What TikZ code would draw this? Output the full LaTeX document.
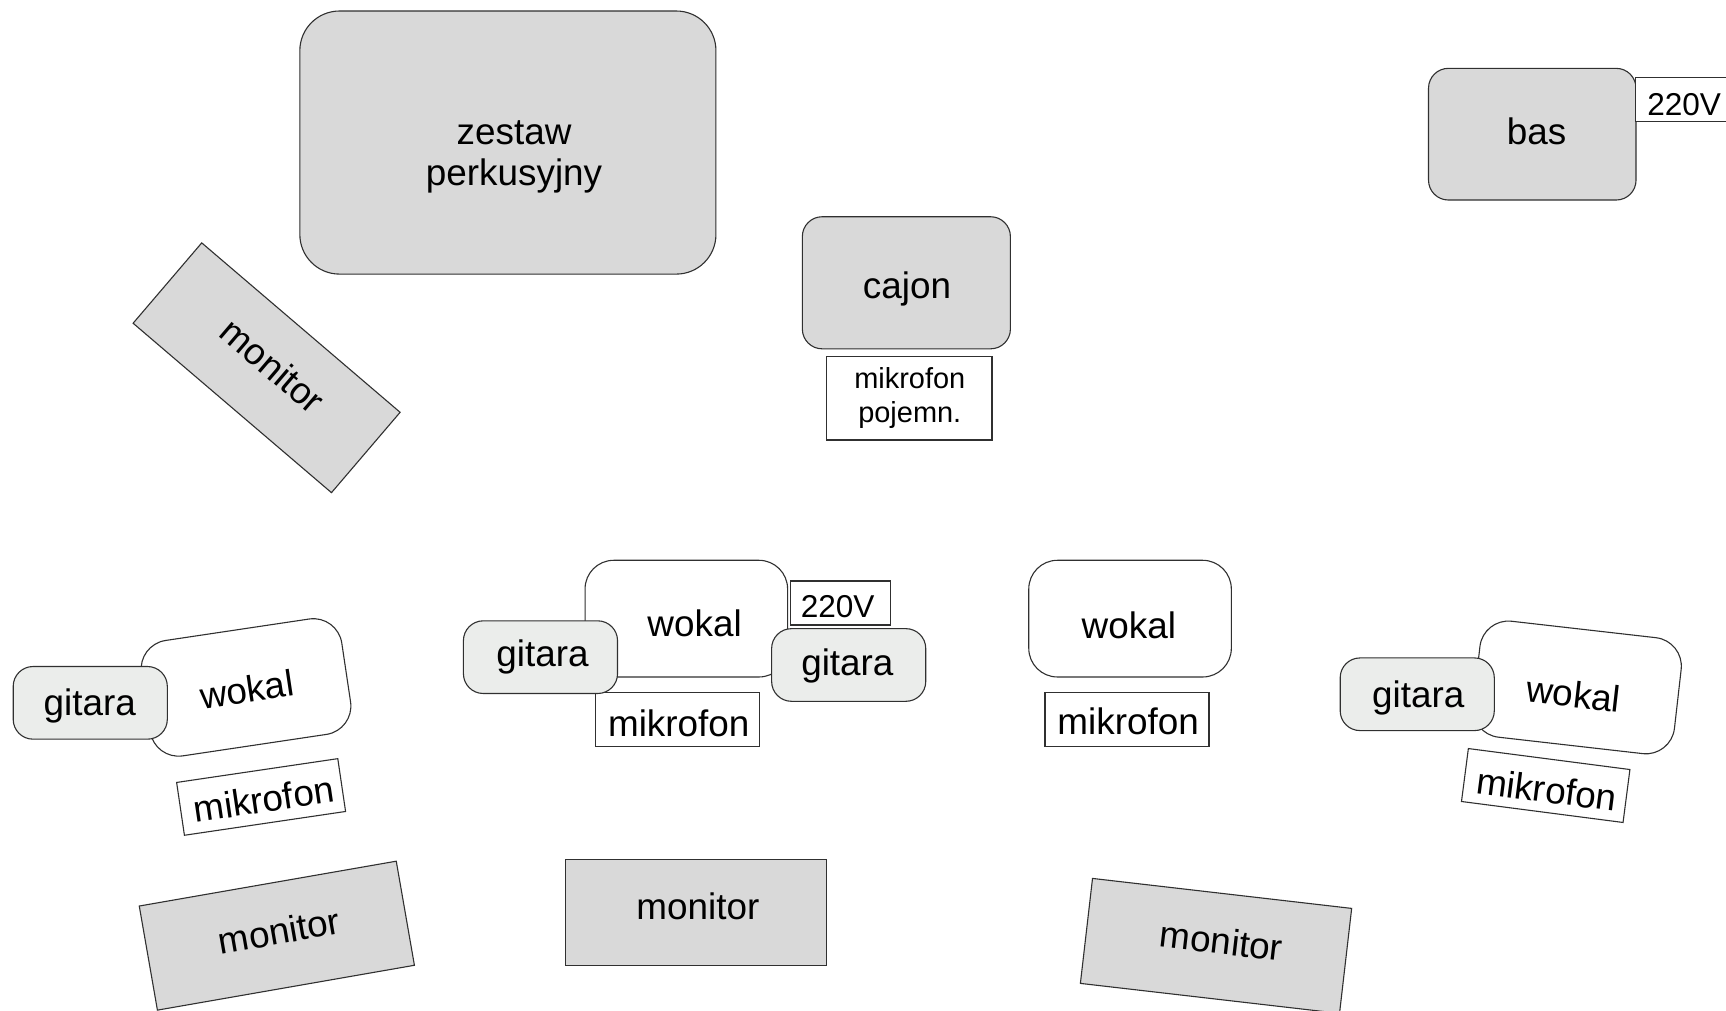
\documentclass[tikz,border=0pt]{standalone}
\usepackage{fontspec}
\setmainfont{Liberation Sans}
\definecolor{fillgray}{HTML}{D9D9D9}
\definecolor{gitgray}{HTML}{EBEDEB}
\definecolor{edgecol}{HTML}{303030}
\begin{document}
\begin{tikzpicture}[x=1pt,y=-1pt,
  plate/.style={draw=edgecol,line width=1pt,inner sep=0pt,outer sep=0pt},
  gear/.style={plate,fill=fillgray},
  monitorbox/.style={gear,minimum width=237pt,minimum height=96pt},
  wokalbox/.style={plate,fill=white,rounded corners=26pt,minimum width=184pt,minimum height=106pt},
  gitarabox/.style={plate,fill=gitgray,rounded corners=18pt,minimum width=140pt,minimum height=66pt},
  mikbox/.style={plate,fill=white,minimum width=148pt,minimum height=48.5pt},
  voltbox/.style={plate,fill=white,minimum width=91pt,minimum height=40pt},
  lbl/.style={inner sep=0pt,font=\fontsize{33.5}{37}\selectfont,align=center},
  smalllbl/.style={inner sep=0pt,font=\fontsize{28.7}{34}\selectfont},
  tinylbl/.style={inner sep=0pt,font=\fontsize{26.3}{31}\selectfont,align=center}]
\fill[white] (0,0) rectangle (1568,918);
\useasboundingbox (0,0) rectangle (1568,918);

% top row
\node[gear,rounded corners=36pt,minimum width=378pt,minimum height=239pt] (drums) at (461.4,129.5) {};
\node[lbl] (drumstxt) at (467,142.3) {zestaw\\perkusyjny};

\node[gear,rounded corners=18pt,minimum width=189pt,minimum height=120pt] (cajon) at (823.4,256.9) {};
\node[lbl] (cajontxt) at (824,262.6) {cajon};
\node[plate,fill=white,minimum width=150pt,minimum height=75.7pt] (pojemn) at (826.2,361.9) {};
\node[tinylbl] (pojemntxt) at (826.5,361.8) {mikrofon\\pojemn.};

\node[gear,rounded corners=18pt,minimum width=188.5pt,minimum height=119.6pt] (bas) at (1392,121.9) {};
\node[lbl] (bastxt) at (1396,119.6) {bas};
\node[voltbox] (voltbas) at (1531.5,90.5) {};
\node[smalllbl] (voltbastxt) at (1530,94.6) {220V};

% upper-left monitor
\node[monitorbox,rotate=-40.5] (monA) at (242.2,334.1) {};
\node[lbl,rotate=-40.5] (monAtxt) at (247.8,332.3) {monitor};

% left group
\node[wokalbox,rotate=8.5] (wokA) at (223.5,624.5) {};
\node[lbl,rotate=8.5] (wokAtxt) at (224.2,626.1) {wokal};
\node[gitarabox] (gitA) at (82,638.5) {};
\node[lbl] (gitAtxt) at (81.6,641.2) {gitara};
\node[mikbox,rotate=8.4] (mikA) at (237.2,724) {};
\node[lbl,rotate=8.4] (mikAtxt) at (239.6,726) {mikrofon};
\node[monitorbox,rotate=9.9] (monB) at (251.5,850) {};
\node[lbl,rotate=9.9] (monBtxt) at (253.5,845.6) {monitor};

% middle group
\node[wokalbox] (wokB) at (623.5,562) {};
\node[lbl] (wokBtxt) at (631,566) {wokal};
\node[mikbox,minimum width=149pt] (mikB) at (615.3,653.5) {};
\node[lbl] (mikBtxt) at (616.6,656.7) {mikrofon};
\node[voltbox] (voltB) at (763.3,547.8) {};
\node[smalllbl] (voltBtxt) at (761,551) {220V};
\node[gitarabox] (gitB) at (491,597) {};
\node[lbl] (gitBtxt) at (492.8,596.5) {gitara};
\node[gitarabox] (gitC) at (771,604.1) {};
\node[lbl] (gitCtxt) at (769.8,604.9) {gitara};
\node[monitorbox] (monC) at (632,828.8) {};
\node[lbl] (monCtxt) at (634,823.6) {monitor};

% right-centre group
\node[wokalbox] (wokC) at (1026.6,562) {};
\node[lbl] (wokCtxt) at (1025.5,568) {wokal};
\node[mikbox,minimum width=149pt] (mikC) at (1023.8,653.5) {};
\node[lbl] (mikCtxt) at (1024.9,655.6) {mikrofon};
\node[monitorbox,rotate=-6.6] (monD) at (1104.7,859.3) {};
\node[lbl,rotate=-6.6] (monDtxt) at (1109.6,854.7) {monitor};

% right group
\node[wokalbox,rotate=-6.5] (wokD) at (1432.8,624.5) {};
\node[lbl,rotate=-6.5] (wokDtxt) at (1429.6,630.6) {wokal};
\node[gitarabox] (gitD) at (1287.5,630.7) {};
\node[lbl] (gitDtxt) at (1288.5,634) {gitara};
\node[mikbox,rotate=-7.4] (mikD) at (1404.2,713.6) {};
\node[lbl,rotate=-7.4] (mikDtxt) at (1405.2,716.9) {mikrofon};
\end{tikzpicture}
\end{document}
